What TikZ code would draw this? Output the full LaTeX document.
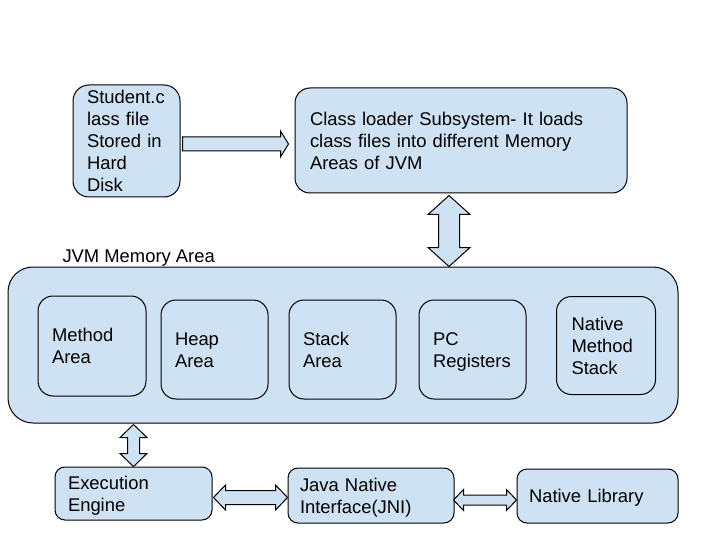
\documentclass[tikz,border=0pt]{standalone}
\usepackage{fontspec}
\setmainfont{Liberation Sans}
\usetikzlibrary{positioning, calc}
\definecolor{boxblue}{HTML}{CFE2F3}
\newcommand{\boxstrut}{\rule[-4.4pt]{0pt}{22pt}}

\begin{document}
\begin{tikzpicture}
	[x=1pt, y=-1pt, line width=1pt,
	 font=\fontsize{18.4}{22}\selectfont,
	 box/.style={draw, fill=boxblue, align=left, inner ysep=0pt,
	   execute at begin node=\boxstrut, execute at end node=\boxstrut},
	 fat/.style={draw, fill=boxblue, line join=miter}]
   \useasboundingbox (0,0) rectangle (720,540);

   % top row
   \node[box, rounded corners=16, minimum width=107, minimum height=112, inner xsep=14, text width=79] (disk) at (126.5,141) {Student.c\\lass file\\Stored in\\Hard\\Disk};
   \node[box, rounded corners=15, minimum width=332, minimum height=105, inner xsep=15, text width=302] (loader) at (461,140.5) {Class loader Subsystem- It loads\\class files into different Memory\\Areas of JVM};

   % memory area
   \node[box, rounded corners=25, minimum width=670, minimum height=156] (jvm) at (343,345) {};
   \node[anchor=base west, inner sep=0pt] (jvmlabel) at (62,262) {JVM Memory Area};
   \node[box, rounded corners=15, minimum width=108, minimum height=100, inner xsep=14, text width=80] (method) at (92,346) {Method\\Area};
   \node[box, rounded corners=15, minimum width=107, minimum height=99, inner xsep=14, text width=79] (heap) at (214.5,349.5) {Heap\\Area};
   \node[box, rounded corners=15, minimum width=107, minimum height=99, inner xsep=14, text width=79] (stack) at (342.5,349.5) {Stack\\Area};
   \node[box, rounded corners=15, minimum width=107, minimum height=99, inner xsep=14, text width=79] (pc) at (472.5,349.5) {PC\\Registers};
   \node[box, rounded corners=15, minimum width=99, minimum height=98, inner xsep=15, text width=69] (native) at (606,345.5) {Native\\Method\\Stack};

   % bottom row
   \node[box, rounded corners=10, minimum width=157, minimum height=53, inner xsep=13, text width=131] (exec) at (133.5,493.5) {Execution\\Engine};
   \node[box, rounded corners=10, minimum width=166, minimum height=55, inner xsep=12, text width=142] (jni) at (371,495.5) {Java Native\\Interface(JNI)};
   \node[box, rounded corners=10, minimum width=161, minimum height=54, inner xsep=12, text width=137] (natlib) at (597.5,496) {Native Library};

   % block arrows
   \coordinate (a1s) at ($(disk.east)+(2,3)$);
   \coordinate (a1e) at (a1s -| loader.west);
   \draw[fat] ($(a1s)+(0,-7)$) -- ($(a1e)+(-14,-7)$) -- ($(a1e)+(-14,-13)$) -- ($(a1e)+(-6,0)$) -- ($(a1e)+(-14,13)$) -- ($(a1e)+(-14,7)$) -- ($(a1s)+(0,7)$) -- cycle;

   \coordinate (a2t) at ($(loader.south)+(-12,2)$);
   \coordinate (a2b) at (a2t |- jvm.north);
   \draw[fat] (a2t) -- ($(a2t)+(21,19)$) -- ($(a2t)+(10.5,19)$) -- ($(a2b)+(10.5,-19)$) -- ($(a2b)+(21,-19)$) -- (a2b) -- ($(a2b)+(-21,-19)$) -- ($(a2b)+(-10.5,-19)$) -- ($(a2t)+(-10.5,19)$) -- ($(a2t)+(-21,19)$) -- cycle;

   \coordinate (a3t) at ($(exec.north |- jvm.south)+(0,1)$);
   \coordinate (a3b) at (exec.north);
   \draw[fat] (a3t) -- ($(a3t)+(13.5,13)$) -- ($(a3t)+(6,13)$) -- ($(a3b)+(6,-13)$) -- ($(a3b)+(13.5,-13)$) -- (a3b) -- ($(a3b)+(-13.5,-13)$) -- ($(a3b)+(-6,-13)$) -- ($(a3t)+(-6,13)$) -- ($(a3t)+(-13.5,13)$) -- cycle;

   \coordinate (a4l) at ($(exec.east)+(1,4)$);
   \coordinate (a4r) at (a4l -| jni.west);
   \draw[fat] (a4l) -- ($(a4l)+(12,-12.5)$) -- ($(a4l)+(12,-7)$) -- ($(a4r)+(-12,-7)$) -- ($(a4r)+(-12,-12.5)$) -- (a4r) -- ($(a4r)+(-12,12.5)$) -- ($(a4r)+(-12,7)$) -- ($(a4l)+(12,7)$) -- ($(a4l)+(12,12.5)$) -- cycle;

   \coordinate (a5l) at ($(jni.east)+(-1,4.5)$);
   \coordinate (a5r) at (a5l -| natlib.west);
   \draw[fat] (a5l) -- ($(a5l)+(10,-10.5)$) -- ($(a5l)+(10,-5)$) -- ($(a5r)+(-10,-5)$) -- ($(a5r)+(-10,-10.5)$) -- (a5r) -- ($(a5r)+(-10,10.5)$) -- ($(a5r)+(-10,5)$) -- ($(a5l)+(10,5)$) -- ($(a5l)+(10,10.5)$) -- cycle;
\end{tikzpicture}
\end{document}
